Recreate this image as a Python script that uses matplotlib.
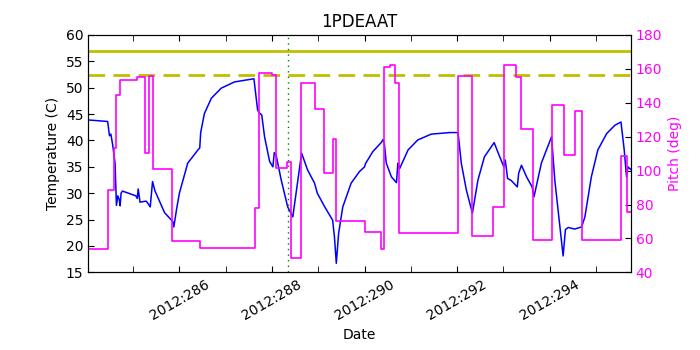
import matplotlib
matplotlib.use('Agg')
import matplotlib.pyplot as plt
from matplotlib.ticker import MultipleLocator, FuncFormatter

# Temperature trace (day of year 2012, deg C)
temp_day = [284.02, 284.45, 284.49, 284.52, 284.56, 284.61, 284.64, 284.67, 284.70,
            284.72, 284.74, 284.77, 285.06, 285.09, 285.11, 285.15, 285.28, 285.31,
            285.37, 285.42, 285.47, 285.53, 285.68, 285.86, 285.88, 285.94, 286.00,
            286.18, 286.40, 286.44, 286.46, 286.54, 286.69, 286.90, 287.19, 287.61,
            287.69, 287.72, 287.78, 287.84, 287.95, 288.02, 288.05, 288.09, 288.20,
            288.34, 288.45, 288.56, 288.64, 288.77, 288.92, 288.98, 289.14, 289.31,
            289.35, 289.39, 289.44, 289.53, 289.71, 289.89, 290.00, 290.02, 290.18,
            290.36, 290.40, 290.43, 290.47, 290.58, 290.69, 290.72, 290.76, 290.94,
            291.15, 291.44, 291.84, 292.02, 292.09, 292.20, 292.33, 292.45, 292.59,
            292.80, 292.92, 293.01, 293.04, 293.09, 293.17, 293.30, 293.33, 293.39,
            293.50, 293.62, 293.66, 293.82, 294.04, 294.11, 294.29, 294.34, 294.40,
            294.54, 294.69, 294.76, 294.90, 295.04, 295.23, 295.41, 295.54, 295.61,
            295.66, 295.69, 295.75]
temp_val = [43.9, 43.6, 40.9, 41.2, 39.1, 35.7, 27.7, 29.5, 28.8,
            27.6, 30.0, 30.4, 29.5, 29.0, 30.8, 28.3, 28.5, 28.2,
            27.4, 32.2, 30.5, 29.3, 26.3, 24.6, 23.6, 27.0, 30.0,
            35.7, 38.2, 38.6, 41.5, 45.1, 48.0, 49.9, 51.1, 51.7,
            45.8, 45.3, 44.8, 40.7, 36.0, 35.0, 37.7, 37.2, 32.5,
            27.4, 25.5, 32.5, 37.6, 34.4, 31.9, 30.0, 27.4, 24.9,
            21.7, 16.7, 22.4, 27.4, 31.9, 34.1, 35.0, 35.6, 37.9,
            39.6, 40.2, 39.2, 35.7, 33.1, 32.0, 35.7, 34.7, 38.2,
            40.1, 41.2, 41.5, 41.5, 35.7, 30.6, 26.2, 32.5, 36.9,
            39.6, 36.9, 35.0, 36.3, 32.8, 32.4, 31.2, 33.8, 35.3,
            33.1, 31.2, 29.3, 35.7, 40.7, 32.5, 18.1, 23.1, 23.5,
            23.2, 23.6, 25.5, 33.1, 38.2, 41.3, 42.9, 43.5, 38.2,
            33.1, 35.0, 34.5]

# Pitch (step changes)
pitch_day = [284.02, 284.45, 284.59, 284.64, 284.72, 285.09, 285.26, 285.34, 285.42,
             285.84, 286.44, 287.64, 287.73, 288.00, 288.08, 288.33, 288.42, 288.62,
             288.93, 289.12, 289.31, 289.39, 290.00, 290.36, 290.42, 290.56, 290.66,
             290.74, 292.02, 292.33, 292.77, 293.01, 293.28, 293.39, 293.64, 294.04,
             294.31, 294.54, 294.69, 295.54, 295.68, 295.75]
pitch_val = [54.0, 88.4, 113.1, 144.6, 153.4, 155.4, 110.5, 156.0, 100.9,
             58.5, 54.6, 78.0, 157.4, 156.3, 101.3, 105.2, 48.5, 151.8,
             136.5, 98.3, 118.4, 70.3, 63.8, 54.0, 160.9, 162.3, 151.8,
             62.9, 155.8, 61.3, 78.6, 162.3, 155.4, 124.3, 58.9, 138.7,
             109.1, 135.3, 58.9, 108.5, 75.6, 75.6]

limit_solid = 57.0
limit_dashed = 52.4
event_day = 288.35

fig = plt.figure(figsize=(7, 3.5), dpi=100)
ax1 = fig.add_axes([0.126, 0.222, 0.775, 0.678])

ax1.plot(temp_day, temp_val, color='b', linewidth=1.1)
ax1.axhline(limit_solid, color=(0.75, 0.75, 0), linewidth=2)
ax1.axhline(limit_dashed, color=(0.75, 0.75, 0), linewidth=2, linestyle='--', dashes=(6, 3))
ax1.axvline(event_day, color='g', linestyle=':', linewidth=1, dashes=(1, 3))

ax1.set_xlim(284.03, 295.75)
ax1.set_ylim(15, 60)
ax1.set_yticks(range(15, 61, 5))
ax1.xaxis.set_major_locator(MultipleLocator(2))
ax1.xaxis.set_minor_locator(MultipleLocator(1))
ax1.xaxis.set_major_formatter(FuncFormatter(lambda v, p: '2012:%03d' % int(round(v))))
ax1.tick_params(which='both', direction='in', top=True, right=False, length=4, labelsize=10)
plt.setp(ax1.get_xticklabels(), rotation=30, ha='center')
ax1.set_xlabel('Date', fontsize=10)
ax1.set_ylabel('Temperature (C)', fontsize=10)
ax1.set_title('1PDEAAT', fontsize=12)

ax2 = ax1.twinx()
ax2.plot(pitch_day, pitch_val, color='magenta', linewidth=1.2, drawstyle='steps-post')
ax2.set_ylim(40, 180)
ax2.set_yticks(range(40, 181, 20))
ax2.tick_params(direction='in', length=4, labelsize=10, labelcolor='magenta')
ax2.set_ylabel('Pitch (deg)', color='magenta', fontsize=10)
ax2.set_xlim(284.03, 295.75)

fig.savefig('out.png', dpi=100)
